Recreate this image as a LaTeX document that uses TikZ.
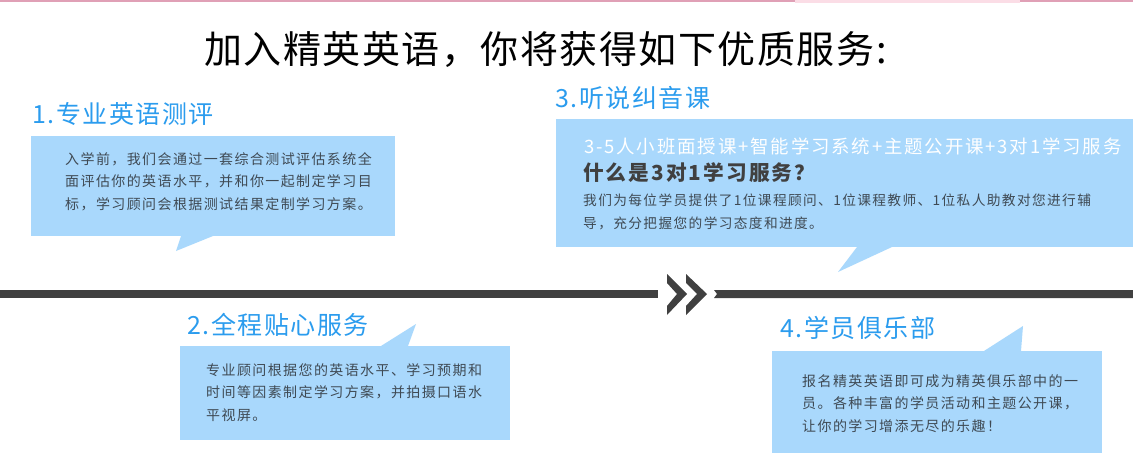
\documentclass[tikz,border=0pt]{standalone}
\usepackage{fontspec}
\setmainfont{Noto Sans CJK SC}
\usetikzlibrary{positioning}
\definecolor{boxblue}{HTML}{A9D8FC}
\definecolor{headblue}{HTML}{2B9CEE}
\definecolor{bardark}{HTML}{404040}
\definecolor{bodygray}{HTML}{3F4A54}
\definecolor{topline}{HTML}{E0A0B6}
\definecolor{toppale}{HTML}{FBDDE6}
\newfontfamily\bodyfont[LetterSpace=10]{Noto Sans CJK SC}
\newfontfamily\headfont[LetterSpace=6]{Noto Sans CJK SC}
\newfontfamily\titlefont[LetterSpace=4]{Noto Sans CJK SC}

\begin{document}
\begin{tikzpicture}[x=1pt,y=-1pt,
  info box/.style={fill=boxblue,inner sep=0pt,anchor=north west},
  heading/.style={text=headblue,inner sep=0pt,anchor=west,
  font=\headfont\fontsize{25}{25}\selectfont},
  body/.style={text=bodygray,inner sep=0pt,anchor=north west,align=left,
  font=\bodyfont\fontsize{14}{22.5}\selectfont}]

  \useasboundingbox (0,0) rectangle (1133,458);
  \fill[white] (0,0) rectangle (1133,458);
  \fill[topline] (0,0) rectangle (1133,2);
  \fill[toppale] (795,0) rectangle (1020,3);

  \node[text=black,inner sep=0pt,anchor=west,
    font=\titlefont\fontsize{38}{38}\selectfont] (title) at (204,50)
    {加入精英英语，你将获得如下优质服务:};

  \node[info box,minimum width=364pt,minimum height=100pt] (box1) at (31,136) {};
  \node[info box,minimum width=577pt,minimum height=128pt] (box3) at (556,119) {};
  \node[info box,minimum width=330pt,minimum height=94pt] (box2) at (180,346) {};
  \node[info box,minimum width=330pt,minimum height=102pt] (box4) at (772,351) {};

  % tails of the speech boxes
  \fill[boxblue] (181,236) -- (176,251) -- (213,236) -- cycle;
  \fill[boxblue] (857,247) -- (838,272) -- (892,247) -- cycle;
  \fill[boxblue] (381,346) -- (416,324) -- (408,346) -- cycle;
  \fill[boxblue] (984,351) -- (1023,326) -- (1021,351) -- cycle;

  \node[heading] (head1) at (32,114) {1.专业英语测评};
  \node[heading] (head3) at (555,98) {3.听说纠音课};
  \node[heading] (head2) at (187,325) {2.全程贴心服务};
  \node[heading] (head4) at (780,328) {4.学员俱乐部};

  \node[body] (text1) at (65,152)
    {入学前，我们会通过一套综合测试评估系统全\\
     面评估你的英语水平，并和你一起制定学习目\\
     标，学习顾问会根据测试结果定制学习方案。};
  \node[body] (text2) at (206,363)
    {专业顾问根据您的英语水平、学习预期和\\
     时间等因素制定学习方案，并拍摄口语水\\
     平视屏。};
  \node[body] (text4) at (802,374)
    {报名精英英语即可成为精英俱乐部中的一\\
     员。各种丰富的学员活动和主题公开课，\\
     让你的学习增添无尽的乐趣！};

  \node[text=white,inner sep=0pt,anchor=west,
    font=\bodyfont\fontsize{18.45}{20}\selectfont] (slogan) at (584,146)
    {3-5人小班面授课+智能学习系统+主题公开课+3对1学习服务};
  \node[text=bardark,inner sep=0pt,anchor=west,
    font=\bodyfont\bfseries\fontsize{20.7}{22}\selectfont] (question) at (583,173)
    {什么是3对1学习服务？};
  \node[body,font=\bodyfont\fontsize{13.7}{23}\selectfont] (text3) at (583,194)
    {我们为每位学员提供了1位课程顾问、1位课程教师、1位私人助教对您进行辅\\
     导，充分把握您的学习态度和进度。};

  % timeline bar and the double chevron
  \fill[bardark] (0,290) rectangle (658,298);
  \fill[bardark] (714,290) -- (1133,290) -- (1133,298) -- (714,298) -- (717,294) -- cycle;
  \fill[bardark] (667,274) -- (687,294) -- (667,315) -- (667,306) -- (677,294) -- (667,283) -- cycle;
  \fill[bardark] (686,274) -- (707,294) -- (686,315) -- (686,306) -- (697,294) -- (686,283) -- cycle;
\end{tikzpicture}
\end{document}
